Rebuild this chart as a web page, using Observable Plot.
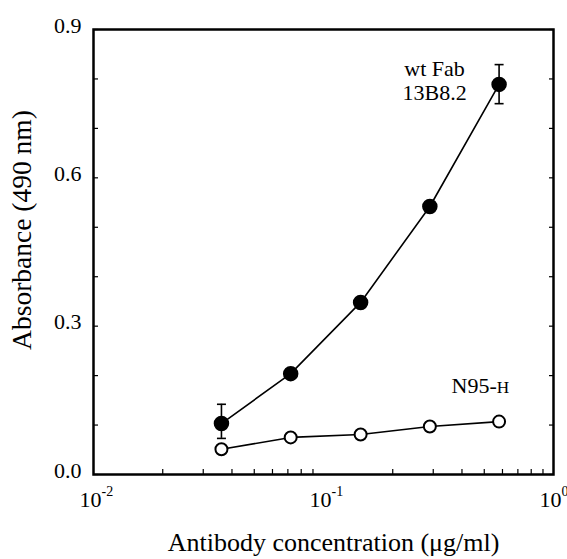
<!DOCTYPE html>
<html>
<head>
<meta charset="utf-8">
<script src="https://cdn.jsdelivr.net/npm/d3@7"></script>
<script src="https://cdn.jsdelivr.net/npm/@observablehq/plot@0.6"></script>
<style>
  html, body { margin: 0; padding: 0; background: #fff; }
  #chart svg { display: block; }
  #chart svg, #chart svg text { font-family: "Liberation Serif", "Times New Roman", serif !important; }
</style>
</head>
<body>
<div id="chart"></div>
<script>
// Antibody concentration (µg/ml)
const concentrations = [0.036, 0.072, 0.145, 0.29, 0.58];
// wt Fab 13B8.2 (filled circles)
const wtFab = [0.103, 0.204, 0.348, 0.542, 0.789];
// N95-H (open circles)
const n95H = [0.051, 0.075, 0.081, 0.097, 0.107];
// error bars on wt Fab (only visible ones)
const errIndex = [0, 4];
const errLow = [0.073, 0.750];
const errHigh = [0.142, 0.829];

const yMajorTicks = [0, 0.3, 0.6, 0.9];
const yMinorTicks = [0, 0.1, 0.2, 0.3, 0.4, 0.5, 0.6, 0.7, 0.8, 0.9];
const xMajorTicks = [0.01, 0.1, 1];
const xExponents = ["-2", "-1", "0"];
const xMinorTicks = [0.02,0.03,0.04,0.05,0.06,0.07,0.08,0.09,0.2,0.3,0.4,0.5,0.6,0.7,0.8,0.9];

const labelWt = "wt Fab\n13B8.2";
const labelN95 = "N95-H";
const xTitle = "Antibody concentration (\u03bcg/ml)";
const yTitle = "Absorbance (490 nm)";

const wtData = concentrations.map((c, i) => ({c, v: wtFab[i]}));
const n95Data = concentrations.map((c, i) => ({c, v: n95H[i]}));
const errData = errIndex.map((k, i) => ({c: concentrations[k], lo: errLow[i], hi: errHigh[i]}));

const capSymbol = {
  draw(context, size) {
    const w = 4.5;
    context.moveTo(-w, 0);
    context.lineTo(w, 0);
  }
};

const font = "Liberation Serif, Times New Roman, serif";

const plot = Plot.plot({
  width: 567,
  height: 559,
  marginLeft: 93,
  marginRight: 14,
  marginTop: 29,
  marginBottom: 85,
  style: {fontFamily: font, fontSize: "20px", color: "black", background: "white"},
  x: {type: "log", domain: [0.01, 1], label: null, axis: null},
  y: {domain: [0, 0.9], label: null, axis: null},
  marks: [
    // inward minor ticks
    Plot.axisY(yMinorTicks, {anchor: "left", tickSize: 5, dx: 5, tickFormat: () => "", strokeWidth: 1.2}),
    Plot.axisY(yMinorTicks, {anchor: "right", tickSize: 5, dx: -5, tickFormat: () => "", strokeWidth: 1.2}),
    Plot.axisX(xMinorTicks, {anchor: "bottom", tickSize: 5, dy: -5, tickFormat: () => "", strokeWidth: 1.2}),
    // y tick labels
    Plot.axisY(yMajorTicks, {anchor: "left", tickSize: 0, tickPadding: 12, dy: -4, tickFormat: d3.format(".1f"), fontSize: 22, fontFamily: font}),
    // x tick labels 10^n
    Plot.text(xMajorTicks, {x: d => d, text: () => "10", frameAnchor: "bottom", dy: 25, dx: -3, fontSize: 22, textAnchor: "middle", lineAnchor: "middle", fontFamily: font}),
    Plot.text(xMajorTicks, {x: d => d, text: (d, i) => xExponents[i], frameAnchor: "bottom", dy: 17, dx: 8, fontSize: 14, textAnchor: "start", lineAnchor: "middle", fontFamily: font}),
    // axis titles
    Plot.text([xTitle], {text: d => d, frameAnchor: "bottom", dy: 68, dx: 10, fontSize: 26, textAnchor: "middle", lineAnchor: "middle", fontFamily: font}),
    Plot.text([yTitle], {text: d => d, frameAnchor: "left", dx: -71, dy: -22, rotate: -90, fontSize: 27.5, textAnchor: "middle", lineAnchor: "middle", fontFamily: font}),
    // data
    Plot.line(wtData, {x: "c", y: "v", stroke: "black", strokeWidth: 1.6}),
    Plot.line(n95Data, {x: "c", y: "v", stroke: "black", strokeWidth: 1.6}),
    Plot.ruleX(errData, {x: "c", y1: "lo", y2: "hi", stroke: "black", strokeWidth: 1.6}),
    Plot.dot(errData, {x: "c", y: "lo", symbol: capSymbol, stroke: "black", strokeWidth: 1.6}),
    Plot.dot(errData, {x: "c", y: "hi", symbol: capSymbol, stroke: "black", strokeWidth: 1.6}),
    Plot.dot(n95Data, {x: "c", y: "v", r: 6, fill: "white", stroke: "black", strokeWidth: 2}),
    Plot.dot(wtData, {x: "c", y: "v", r: 7, fill: "black", stroke: "black"}),
    // annotations
    Plot.text([labelWt], {x: () => 0.304, y: () => 0.797, text: d => d, fontSize: 22, lineHeight: 1.1, textAnchor: "middle", fontFamily: font}),
    Plot.text([labelN95], {x: () => 0.481, y: () => 0.18, text: d => d, fontSize: 22, textAnchor: "middle", fontFamily: font}),
    Plot.frame({stroke: "black", strokeWidth: 2.5})
  ]
});

document.getElementById("chart").appendChild(plot);

// small-caps H in N95-H
plot.querySelectorAll("text").forEach(t => {
  if (t.textContent === labelN95) {
    t.textContent = "N95-";
    const ts = document.createElementNS("http://www.w3.org/2000/svg", "tspan");
    ts.setAttribute("font-size", "0.78em");
    ts.textContent = "H";
    t.appendChild(ts);
  }
});
</script>
</body>
</html>
